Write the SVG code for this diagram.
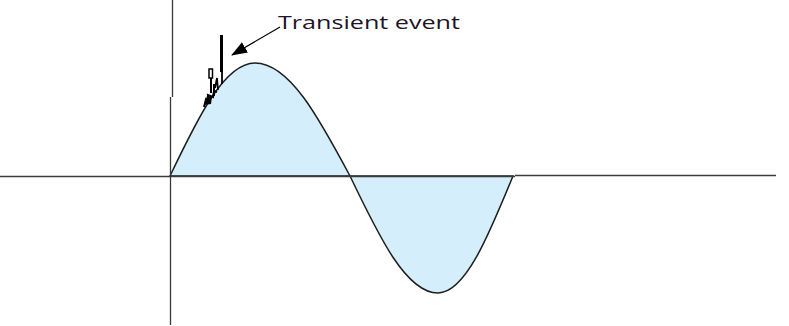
<svg xmlns="http://www.w3.org/2000/svg" width="789" height="326" viewBox="0 0 789 326">
<style>
.axis{stroke:#3a3a3a;stroke-width:1.3;fill:none}
.wave{stroke:#1e1e1e;stroke-width:1.5;fill:#d4eefb}
.spike{stroke:#000;fill:none}
.lbl{font-family:"Open Sans","DejaVu Sans",sans-serif;font-size:17.5px;fill:#1c1428}
</style>
<defs>
<marker id="ah" viewBox="0 0 16 12" refX="15" refY="6" markerWidth="16" markerHeight="12" orient="auto" markerUnits="userSpaceOnUse">
<path d="M0,0 L16,6 L0,12 z" fill="#000"/>
</marker>
</defs>
<g id="wave">
<path class="wave" d="M170,176 C197.7,118.1 224.2,63 255,63 C289.4,63 319,118.1 350,176 C378.7,235.9 406.1,293 438,293 C465.1,293 488.5,235.9 513,176 Z"/>
</g>
<g id="axes">
<line class="axis" x1="0" y1="176.5" x2="515" y2="176.5"/>
<line class="axis" x1="515" y1="175.5" x2="776" y2="175.5"/>
<line class="axis" x1="172.5" y1="0" x2="172.5" y2="97"/>
<line class="axis" x1="170.5" y1="97" x2="170.5" y2="325"/>
</g>
<g id="transient">
<line class="spike" x1="221.5" y1="35" x2="221.5" y2="72" stroke-width="3"/>
<line class="spike" x1="222" y1="72" x2="222" y2="84" stroke-width="1.8"/>
<path class="spike" stroke-width="1.8" d="M218,90 L217,78 L215,88"/>
<rect x="209" y="69" width="3.5" height="9" fill="none" stroke="#000" stroke-width="1.5"/>
<path class="spike" stroke-width="2" d="M211,78 L211,93 M214,84 L214,96"/>
<path class="spike" stroke-width="2" d="M204,107 L206,99 L209,101 L208,95 L213,97 L214,91 L217,92"/>
<path fill="#000" d="M204,105 L207,96 L212,96 L211,104 Z"/>
</g>
<g id="connectors">
<line x1="280" y1="27" x2="232" y2="55" stroke="#000" stroke-width="1.2" marker-end="url(#ah)"/>
</g>
<g id="label">
<text class="lbl" x="278" y="29" textLength="182" lengthAdjust="spacingAndGlyphs">Transient event</text>
</g>
</svg>
